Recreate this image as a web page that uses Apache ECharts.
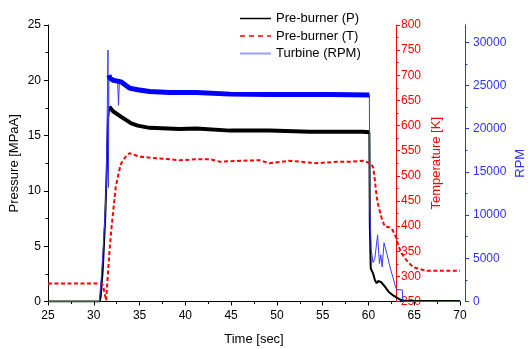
<!DOCTYPE html>
<html>
<head>
<meta charset="utf-8">
<script src="https://cdn.jsdelivr.net/npm/echarts@6/dist/echarts.min.js"></script>
<style>html,body{margin:0;padding:0;background:#fff}#c{width:528px;height:349px}</style>
</head>
<body>
<div id="c"></div>
<script>
// Pre-burner pressure (MPaA)
var pTime = [25, 30.65, 30.75, 30.98, 31.24, 31.42, 31.55, 31.7, 32.1, 33.0, 34.1, 34.8, 36.1, 39.4, 41.2, 44.9, 49.2, 53.6, 57.0, 59.4, 60.1, 60.15, 60.25, 60.5, 60.7, 60.9, 61.07, 61.4, 61.8, 62.2, 62.7, 63.1, 63.5, 64.0, 70];
var pValues = [0, 0, 0.4, 2.85, 7.4, 11.9, 16.5, 17.6, 17.2, 16.7, 16.1, 15.9, 15.7, 15.6, 15.65, 15.45, 15.45, 15.35, 15.35, 15.35, 15.3, 7.0, 3.0, 2.55, 1.94, 1.65, 1.85, 1.74, 1.34, 0.89, 0.55, 0.35, 0.15, 0.05, 0.05];
// Pre-burner temperature (K)
var tTime = [25, 30.85, 31.0, 31.35, 31.5, 31.7, 31.9, 32.4, 32.8, 33.0, 33.6, 33.9, 35.0, 36.9, 39.4, 41.2, 42.7, 43.8, 46.0, 48.1, 49.2, 51.4, 54.3, 56.5, 58.1, 59.4, 60.2, 60.5, 60.7, 60.9, 61.1, 61.3, 61.5, 61.8, 62.2, 62.5, 62.7, 63.0, 63.3, 63.6, 64.2, 64.9, 66.4, 70];
var tValues = [286, 286, 282, 252, 293, 346, 390, 478, 512, 525, 541, 545, 538, 535, 531, 533, 533, 528, 530, 531, 525, 530, 525, 528, 528, 530, 525, 518, 492, 458, 440, 425, 412, 399, 398, 396, 390, 378, 360, 346, 331, 318, 311, 311];
// Turbine speed (RPM)
var rTime = [25, 30.6, 30.8, 31.0, 31.2, 31.35, 31.45, 31.55, 31.6, 31.65, 31.75, 32.1, 32.6, 32.7, 32.8, 33.0, 33.9, 34.8, 36.1, 38.3, 41.2, 44.9, 49.2, 55.8, 60.1, 60.15, 60.3, 60.5, 60.7, 61.0, 61.2, 61.35, 61.5, 61.7, 62.0, 62.35, 62.7, 62.9, 63.1, 63.7, 63.75, 70];
var rValues = [0, 0, 2500, 5600, 9400, 13000, 20000, 29100, 13200, 26200, 25900, 25600, 25500, 22700, 25400, 25400, 24700, 24500, 24300, 24200, 24200, 24000, 23970, 23970, 23900, 11000, 6000, 4500, 5000, 7700, 4400, 5400, 4000, 6800, 5600, 4000, 2700, 1900, 1350, 1350, 0, 0];
var xTicks = [25, 30, 35, 40, 45, 50, 55, 60, 65, 70];
var rpmTicks = [0, 5000, 10000, 15000, 20000, 25000, 30000];

function pairs(t, v) { return t.map(function (x, i) { return [x, v[i]]; }); }
var pData = pairs(pTime, pValues);
var tData = pairs(tTime, tValues);
var rData = pairs(rTime, rValues);
var pBand = pData.filter(function (d) { return d[0] >= 31.7 && d[0] <= 60.1; });
var rBand = rData.filter(function (d) { return d[0] >= 31.65 && d[0] <= 60.1 && d[1] > 23000; });

var FONT = 'Liberation Sans';
var RED = '#ff0000', BLUE = '#2f2fff';
var plain = function (v) { return String(v); };
var chart = echarts.init(document.getElementById('c'), null, {renderer: 'canvas'});
chart.setOption({
  animation: false,
  textStyle: {fontFamily: FONT},
  grid: {left: 48, right: 68, top: 25, bottom: 47.5, containLabel: false, outerBoundsMode: 'none'},
  legend: {
    orient: 'vertical', left: 234, top: 7, itemWidth: 31, itemHeight: 14, itemGap: 4.5,
    textStyle: {fontFamily: FONT, fontSize: 13, color: '#000'},
    itemStyle: {opacity: 0},
    data: [
      {name: 'Pre-burner (P)', itemStyle: {opacity: 0}, lineStyle: {color: '#000', width: 1.5}},
      {name: 'Pre-burner (T)', itemStyle: {opacity: 0}, lineStyle: {color: RED, width: 1.5, type: [5, 4]}},
      {name: 'Turbine (RPM)', itemStyle: {opacity: 0}, lineStyle: {color: '#9c9cff', width: 2}}
    ]
  },
  xAxis: {
    type: 'value', min: 25, max: 70, interval: 5,
    name: 'Time [sec]', nameLocation: 'middle', nameGap: 31, nameMoveOverlap: false,
    nameTextStyle: {fontFamily: FONT, fontSize: 13, color: '#000'},
    axisLine: {lineStyle: {color: '#000', width: 1}},
    axisTick: {show: true, inside: false, length: 4, lineStyle: {color: '#000'}},
    minorTick: {show: true, splitNumber: 2, length: 2.5, lineStyle: {color: '#000'}},
    axisLabel: {fontFamily: FONT, fontSize: 12, color: '#000', margin: 8, formatter: plain},
    splitLine: {show: false}
  },
  yAxis: [
    {
      type: 'value', min: 0, max: 25, interval: 5, position: 'left',
      name: 'Pressure [MPaA]', nameLocation: 'middle', nameGap: 27, nameRotate: 90, nameMoveOverlap: false,
      nameTextStyle: {fontFamily: FONT, fontSize: 13, color: '#000'},
      axisLine: {show: true, lineStyle: {color: '#000'}},
      axisTick: {show: true, length: 4, lineStyle: {color: '#000'}},
      minorTick: {show: true, splitNumber: 2, length: 2.5, lineStyle: {color: '#000'}},
      axisLabel: {fontFamily: FONT, fontSize: 12, color: '#000', margin: 7, formatter: plain},
      splitLine: {show: false}
    },
    {
      type: 'value', min: 250, max: 800, interval: 50, position: 'right', offset: -64,
      name: 'Temperature [K]', nameLocation: 'middle', nameGap: 34, nameRotate: 90, nameMoveOverlap: false,
      nameTextStyle: {fontFamily: FONT, fontSize: 13, color: RED},
      axisLine: {show: true, lineStyle: {color: RED}},
      axisTick: {show: true, length: 4, lineStyle: {color: RED}},
      minorTick: {show: true, splitNumber: 2, length: 2.5, lineStyle: {color: RED}},
      axisLabel: {fontFamily: FONT, fontSize: 12, color: RED, margin: 5, formatter: plain},
      splitLine: {show: false}
    },
    {
      type: 'value', min: 0, max: 32000, interval: 5000, position: 'right', offset: 5,
      name: 'RPM', nameLocation: 'middle', nameGap: 49, nameRotate: 90, nameMoveOverlap: false,
      nameTextStyle: {fontFamily: FONT, fontSize: 13, color: BLUE},
      axisLine: {show: true, lineStyle: {color: BLUE}},
      axisTick: {show: true, length: 4, lineStyle: {color: BLUE}, customValues: rpmTicks},
      minorTick: {show: true, splitNumber: 2, length: 2.5, lineStyle: {color: BLUE}},
      axisLabel: {fontFamily: FONT, fontSize: 12, color: BLUE, margin: 8, customValues: rpmTicks, formatter: plain},
      splitLine: {show: false}
    }
  ],
  series: [
    {name: 'Pre-burner (P)', type: 'line', yAxisIndex: 0, data: pData, symbol: 'none',
      lineStyle: {color: '#000', width: 2}, itemStyle: {color: '#000'}, z: 2},
    {name: 'Pre-burner (P)', type: 'line', yAxisIndex: 0, data: pBand, symbol: 'none',
      lineStyle: {color: '#000', width: 4}, itemStyle: {color: '#000'}, z: 2},
    {name: 'Pre-burner (T)', type: 'line', yAxisIndex: 1, data: tData, symbol: 'none',
      lineStyle: {color: RED, width: 2, type: [4, 2.5]}, itemStyle: {color: RED}, z: 3},
    {name: 'Turbine (RPM)', type: 'line', yAxisIndex: 2, data: rData, symbol: 'none',
      lineStyle: {color: '#3a3aff', width: 1}, itemStyle: {color: '#3a3aff'}, z: 4},
    {name: 'Turbine (RPM)', type: 'line', yAxisIndex: 2, data: rBand, symbol: 'none',
      lineStyle: {color: '#0000ff', width: 5}, itemStyle: {color: '#0000ff'}, z: 4}
  ]
});
</script>
</body>
</html>
